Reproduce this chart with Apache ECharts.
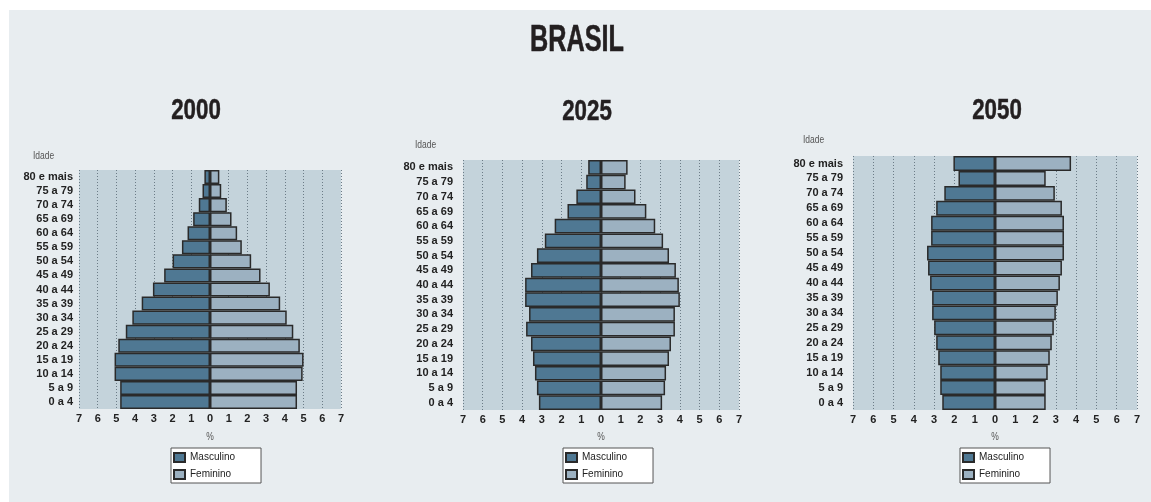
<!DOCTYPE html>
<html>
<head>
<meta charset="utf-8">
<script src="https://cdn.jsdelivr.net/npm/echarts@6/dist/echarts.min.js"></script>
<style>
  html, body { margin: 0; padding: 0; background: #fff; }
  #chart { width: 1151px; height: 502px; }
</style>
</head>
<body>
<div id="chart"></div>
<script>
// faixas etárias, de baixo para cima
const faixas = ['0 a 4', '5 a 9', '10 a 14', '15 a 19', '20 a 24', '25 a 29', '30 a 34', '35 a 39',
  '40 a 44', '45 a 49', '50 a 54', '55 a 59', '60 a 64', '65 a 69', '70 a 74', '75 a 79', '80 e mais']
const anos = ['2000', '2025', '2050']
const xTicks = [-7, 7, 1]   // min, max, interval

// % da população
const masc2000 = [4.8, 4.8, 5.1, 5.1, 4.9, 4.5, 4.15, 3.65, 3.05, 2.45, 2.0, 1.5, 1.2, 0.9, 0.6, 0.4, 0.3]
const fem2000  = [4.65, 4.65, 4.95, 5.0, 4.8, 4.45, 4.1, 3.75, 3.2, 2.7, 2.2, 1.7, 1.45, 1.15, 0.9, 0.6, 0.5]
const masc2025 = [3.15, 3.25, 3.35, 3.45, 3.55, 3.8, 3.65, 3.85, 3.85, 3.55, 3.25, 2.85, 2.35, 1.7, 1.25, 0.75, 0.65]
const fem2025  = [3.1, 3.25, 3.3, 3.45, 3.55, 3.75, 3.75, 4.0, 3.95, 3.8, 3.45, 3.15, 2.75, 2.3, 1.75, 1.25, 1.35]
const masc2050 = [2.6, 2.7, 2.7, 2.8, 2.9, 3.0, 3.1, 3.1, 3.2, 3.3, 3.35, 3.15, 3.15, 2.9, 2.5, 1.8, 2.05]
const fem2050  = [2.5, 2.5, 2.6, 2.7, 2.8, 2.9, 3.0, 3.1, 3.2, 3.3, 3.4, 3.4, 3.4, 3.3, 2.95, 2.5, 3.75]

const masc = [masc2000, masc2025, masc2050]
const fem = [fem2000, fem2025, fem2050]

const FONT = "'Liberation Sans', Arial, sans-serif"
const corMasc = '#4f7893'
const corFem = '#9cb1c1'

// posição de cada pirâmide
const grids = [
  {left: 79, top: 170, width: 262, height: 239},
  {left: 463, top: 160, width: 276, height: 250},
  {left: 853, top: 156, width: 284, height: 254}
]
const anoPos = [[196, 111], [587, 112], [997, 111]]
const idadePos = [[33, 156], [415, 145], [803, 140]]
const legendPos = [[171, 448], [563, 448], [960, 448]]

let myChart = echarts.init(document.getElementById('chart'))

let xAxis = [], yAxis = [], series = [], legend = []
let graphic = [
  {type: 'rect', shape: {x: 9, y: 10, width: 1142, height: 492}, style: {fill: '#e8edf0'}, z: -10},
  // títulos condensados via scaleX
  {type: 'text', x: 577, y: 41, scaleX: 0.7,
    style: {text: 'BRASIL', font: 'bold 36px ' + FONT, fill: '#231f20', stroke: '#231f20', lineWidth: 0.6,
      align: 'center', verticalAlign: 'middle'}}
]

grids.forEach((g, i) => {
  xAxis.push({
    gridIndex: i,
    type: 'value',
    min: xTicks[0],
    max: xTicks[1],
    interval: xTicks[2],
    axisLine: {show: false},
    axisTick: {show: false},
    axisLabel: {
      margin: 4,
      fontFamily: FONT, fontWeight: 'bold', fontSize: 11, color: '#222',
      formatter: v => Math.abs(v)
    },
    splitLine: {show: true, lineStyle: {color: '#6c7c87', type: [1, 2], width: 1}}
  })
  yAxis.push({
    gridIndex: i,
    type: 'category',
    data: faixas,
    axisLine: {show: false},
    axisTick: {show: false},
    axisLabel: {
      interval: 0,
      margin: i === 0 ? 6 : 10,
      fontFamily: FONT, fontWeight: 'bold', fontSize: 11, color: '#222'
    }
  })
  series.push({
    name: 'Masculino',
    type: 'bar',
    xAxisIndex: i, yAxisIndex: i,
    stack: 'p' + i,
    barWidth: '100%',
    data: masc[i].map(v => -v),
    itemStyle: {color: corMasc, borderColor: '#2a2a2a', borderWidth: 1.5}
  })
  series.push({
    name: 'Feminino',
    type: 'bar',
    xAxisIndex: i, yAxisIndex: i,
    stack: 'p' + i,
    barWidth: '100%',
    data: fem[i],
    itemStyle: {color: corFem, borderColor: '#2a2a2a', borderWidth: 1.5}
  })
  legend.push({
    left: legendPos[i][0], top: legendPos[i][1],
    orient: 'vertical',
    data: ['Masculino', 'Feminino'],
    selectedMode: false,
    icon: 'rect',
    itemWidth: 11, itemHeight: 9, itemGap: 6,
    padding: [4, 26, 3, 2],
    borderColor: '#555', borderWidth: 1,
    backgroundColor: '#fff',
    textStyle: {fontFamily: FONT, fontSize: 10, color: '#222'}
  })
  graphic.push({type: 'text', x: anoPos[i][0], y: anoPos[i][1], scaleX: 0.77,
    style: {text: anos[i], font: 'bold 29px ' + FONT, fill: '#231f20', stroke: '#231f20', lineWidth: 0.5,
      align: 'center', verticalAlign: 'middle'}})
  graphic.push({type: 'text', x: idadePos[i][0], y: idadePos[i][1], scaleX: 0.85,
    style: {text: 'Idade', font: '10px ' + FONT, fill: '#555', align: 'left', verticalAlign: 'middle'}})
  graphic.push({type: 'text', x: g.left + g.width / 2, y: 437, scaleX: 0.85,
    style: {text: '%', font: '10px ' + FONT, fill: '#555', align: 'center', verticalAlign: 'middle'}})
})

let option = {
  backgroundColor: '#fff',
  animation: false,
  grid: grids.map(g => Object.assign({show: true, backgroundColor: '#c4d3db', borderWidth: 0}, g)),
  xAxis: xAxis,
  yAxis: yAxis,
  legend: legend,
  series: series,
  graphic: graphic
}
myChart.setOption(option)
</script>
</body>
</html>
